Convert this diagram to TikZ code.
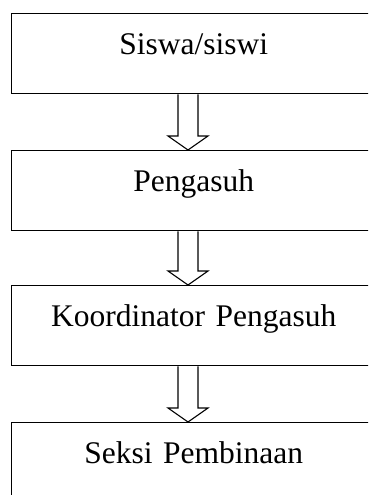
\documentclass[tikz,border=0pt]{standalone}
\usepackage{fontspec}
\setmainfont{Liberation Serif}
\usetikzlibrary{calc}
\begin{document}
\begin{tikzpicture}[x=1pt,y=-1pt,
  stagebox/.style={draw,line width=1.4pt,anchor=north west,inner sep=0pt,
    text width=364pt,align=center,text height=40.5pt,text depth=39.5pt,
    font=\fontsize{31.5}{36}\selectfont},
  blockarrow/.style={draw,line width=1.1pt,fill=white,line join=miter}]
\useasboundingbox (0,0) rectangle (368,495);
\clip (0,0) rectangle (368,495);
% chain of responsibility, top to bottom
\node[stagebox] (b1) at (11,13)  {Siswa/siswi};
\node[stagebox] (b2) at (11,150) {Pengasuh};
\node[stagebox] (b3) at (11,285) {Koordinator Pengasuh};
\node[stagebox] (b4) at (11,422) {Seksi Pembinaan};
% vertical axis of the hollow arrows
\coordinate (axis) at (188,0);
\newcommand\hollowarrow[2]{%
  \draw[blockarrow] let \p1=(#1.south -| axis), \p2=(#2.north -| axis) in
    (\x1-10pt,\y1) -- (\x1-10pt,\y2+14pt) -- (\x1-20pt,\y2+14pt) --
    (\x2,\y2) -- (\x1+20pt,\y2+14pt) -- (\x1+10pt,\y2+14pt) -- (\x1+10pt,\y1);}
\hollowarrow{b1}{b2}
\hollowarrow{b2}{b3}
\hollowarrow{b3}{b4}
\end{tikzpicture}
\end{document}
